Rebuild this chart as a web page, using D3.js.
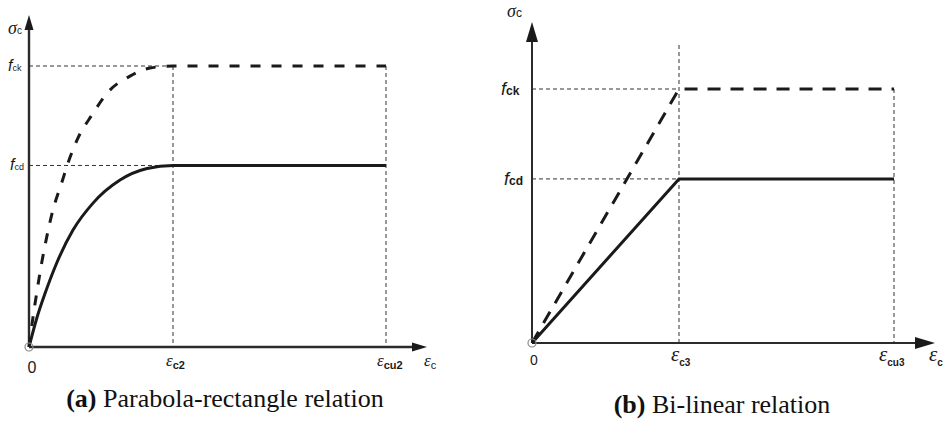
<!DOCTYPE html>
<html>
<head>
<meta charset="utf-8">
<script src="https://cdn.jsdelivr.net/npm/d3@7/dist/d3.min.js"></script>
<style>
  html, body { margin: 0; padding: 0; background: #fff; }
  svg { display: block; }
</style>
</head>
<body>
<svg id="chart" width="943" height="423"></svg>
<script>
// Strain positions (‰) of the marked points on each strain axis
const strainMarksA = [0, 2.0, 3.5];     // 0, εc2, εcu2
const strainMarksB = [0, 1.75, 3.5];    // 0, εc3, εcu3

// Stress levels as a fraction of fck
const fckLevel = 1.0;
const fcdLevel = 0.646;

// (a) Parabola-rectangle: design curve (fcd) – strain, stress
const designStrainA = [0, 0.111, 0.222, 0.385, 0.611, 0.889, 1.264, 1.639, 2.0, 3.5];
const designStressA = [0, 0.105, 0.190, 0.299, 0.416, 0.512, 0.594, 0.635, 0.646, 0.646];

// (a) Parabola-rectangle: characteristic curve (fck) – strain, stress
const charStrainA = [0, 0.056, 0.107, 0.176, 0.246, 0.333, 0.454, 0.542, 0.681, 0.875, 1.097, 1.403, 1.68, 2.0, 3.5];
const charStressA = [0, 0.107, 0.192, 0.299, 0.391, 0.488, 0.584, 0.655, 0.744, 0.826, 0.907, 0.964, 0.993, 1.0, 1.0];

// (b) Bi-linear: design and characteristic polylines
const designStrainB = [0, 1.75, 3.5];
const designStressB = [0, 0.646, 0.646];
const charStrainB = [0, 1.75, 3.5];
const charStressB = [0, 1.0, 1.0];

const svg = d3.select("#chart");
const ink = "#1a1a1a";
const axisInk = "#2b2b2b";

// Schematic (not-to-scale) strain axes: piecewise linear scales
const xA = d3.scaleLinear().domain(strainMarksA).range([29, 173, 386]);
const yA = d3.scaleLinear().domain([0, 1]).range([347, 66]);
const xB = d3.scaleLinear().domain(strainMarksB).range([532, 679, 894]);
const yB = d3.scaleLinear().domain([0, 1]).range([343, 89]);

function arrowHead(g, tip, dir, len, half, color) {
  const [tx, ty] = tip;
  let pts;
  if (dir === "up") pts = [[tx, ty], [tx - half, ty + len], [tx + half, ty + len]];
  else pts = [[tx, ty], [tx - len, ty - half], [tx - len, ty + half]];
  g.append("path").attr("d", d3.line()(pts) + "Z").attr("fill", color);
}

function label(g, x, y, parts, anchor) {
  const t = g.append("text").attr("x", x).attr("y", y)
    .attr("text-anchor", anchor || "start").attr("fill", ink);
  parts.forEach(p => {
    const s = t.append("tspan").text(p.text)
      .attr("font-family", p.family || "Liberation Sans, Arial, sans-serif")
      .attr("font-size", p.size)
      .attr("font-style", p.italic ? "italic" : "normal")
      .attr("font-weight", p.bold ? "bold" : "normal");
    if (p.dy) s.attr("dy", p.dy);
    if (p.dx) s.attr("dx", p.dx);
  });
  return t;
}

function drawPanel(cfg) {
  const g = svg.append("g");
  const { x, y, strainMarks } = cfg;
  const x0 = x(0), y0 = y(0);
  const xPeak = x(strainMarks[1]), xUlt = x(strainMarks[2]);

  // thin dashed reference lines
  const ref = g.append("g").attr("stroke", "#333").attr("stroke-width", 1)
    .attr("stroke-dasharray", "4,3").attr("fill", "none");
  ref.append("line").attr("x1", x0).attr("x2", xPeak).attr("y1", y(fckLevel)).attr("y2", y(fckLevel));
  ref.append("line").attr("x1", x0).attr("x2", xPeak).attr("y1", y(fcdLevel)).attr("y2", y(fcdLevel));
  ref.append("line").attr("x1", xPeak).attr("x2", xPeak).attr("y1", cfg.peakTop).attr("y2", y0);
  ref.append("line").attr("x1", xUlt).attr("x2", xUlt).attr("y1", y(fckLevel)).attr("y2", y0);

  // axes
  g.append("line").attr("x1", x0).attr("x2", x0).attr("y1", y0).attr("y2", cfg.yTip + cfg.arrowLen - 1)
    .attr("stroke", axisInk).attr("stroke-width", cfg.axisW);
  g.append("line").attr("x1", x0).attr("x2", cfg.xTip - cfg.arrowLen + 1).attr("y1", y0).attr("y2", y0)
    .attr("stroke", axisInk).attr("stroke-width", cfg.axisW);
  arrowHead(g, [x0, cfg.yTip], "up", cfg.arrowLen, cfg.arrowHalf, ink);
  arrowHead(g, [cfg.xTip, y0], "right", cfg.arrowLen, cfg.arrowHalf, ink);

  // stress-strain curves
  const line = d3.line().x(d => x(d[0])).y(d => y(d[1])).curve(cfg.curve);
  g.append("path").datum(d3.zip(cfg.charStrain, cfg.charStress)).attr("d", line)
    .attr("fill", "none").attr("stroke", ink).attr("stroke-width", 3)
    .attr("stroke-dasharray", cfg.dash);
  g.append("path").datum(d3.zip(cfg.designStrain, cfg.designStress)).attr("d", line)
    .attr("fill", "none").attr("stroke", ink).attr("stroke-width", 3);

  // origin marker
  g.append("circle").attr("cx", x0).attr("cy", y0).attr("r", 4)
    .attr("fill", "none").attr("stroke", "#888").attr("stroke-width", 1.2);
  return g;
}

// ---- (a) Parabola-rectangle ----
const gA = drawPanel({
  x: xA, y: yA, strainMarks: strainMarksA,
  peakTop: yA(fckLevel), yTip: 15, xTip: 427, arrowLen: 15, arrowHalf: 4.5, axisW: 2.4,
  charStrain: charStrainA, charStress: charStressA,
  designStrain: designStrainA, designStress: designStressA,
  curve: d3.curveMonotoneX, dash: "10,11"
});
label(gA, 8, 34, [{ text: "σ", size: 18, italic: true, family: "Liberation Serif, serif" },
                  { text: "c", size: 10 }]);
label(gA, 8, 71, [{ text: "f", size: 16, italic: true }, { text: "ck", size: 9 }]);
label(gA, 10, 170, [{ text: "f", size: 16, italic: true }, { text: "cd", size: 9 }]);
label(gA, 32, 373, [{ text: "0", size: 16 }], "middle");
label(gA, 166, 366, [{ text: "ε", size: 17, italic: true, family: "Liberation Serif, serif" },
                     { text: "c2", size: 11, bold: true, dy: 3 }]);
label(gA, 377, 366, [{ text: "ε", size: 17, italic: true, family: "Liberation Serif, serif" },
                     { text: "cu2", size: 11, bold: true, dy: 3 }]);
label(gA, 424, 366, [{ text: "ε", size: 17, italic: true, family: "Liberation Serif, serif" },
                     { text: "c", size: 11, dy: 3 }]);

// ---- (b) Bi-linear ----
const gB = drawPanel({
  x: xB, y: yB, strainMarks: strainMarksB,
  peakTop: 45, yTip: 22, xTip: 935, arrowLen: 20, arrowHalf: 6, axisW: 2,
  charStrain: charStrainB, charStress: charStressB,
  designStrain: designStrainB, designStress: designStressB,
  curve: d3.curveLinear, dash: "13,10"
});
label(gB, 507, 17, [{ text: "σ", size: 18, italic: true, family: "Liberation Serif, serif" },
                    { text: "c", size: 12 }]);
label(gB, 501, 95, [{ text: "f", size: 18, italic: true }, { text: "ck", size: 12, bold: true }]);
label(gB, 504, 185, [{ text: "f", size: 18, italic: true }, { text: "cd", size: 12, bold: true }]);
label(gB, 534, 365, [{ text: "0", size: 14 }], "middle");
label(gB, 671, 361, [{ text: "ε", size: 21, italic: true, family: "Liberation Serif, serif" },
                     { text: "c3", size: 10, bold: true, dy: 5 }]);
label(gB, 879, 361, [{ text: "ε", size: 21, italic: true, family: "Liberation Serif, serif" },
                     { text: "cu3", size: 10, bold: true, dy: 5 }]);
label(gB, 929, 361, [{ text: "ε", size: 21, italic: true, family: "Liberation Serif, serif" },
                     { text: "c", size: 10, bold: true, dy: 5 }]);

// ---- captions ----
const captions = [
  { cx: 225, y: 407, tag: "(a)", text: " Parabola-rectangle relation" },
  { cx: 722, y: 413, tag: "(b)", text: " Bi-linear relation" }
];
captions.forEach(c => {
  const t = svg.append("text").attr("x", c.cx).attr("y", c.y).attr("text-anchor", "middle")
    .attr("font-family", "Liberation Serif, 'Times New Roman', serif").attr("font-size", 26).attr("fill", "#111");
  t.append("tspan").attr("font-weight", "bold").text(c.tag);
  t.append("tspan").text(c.text);
});
</script>
</body>
</html>
